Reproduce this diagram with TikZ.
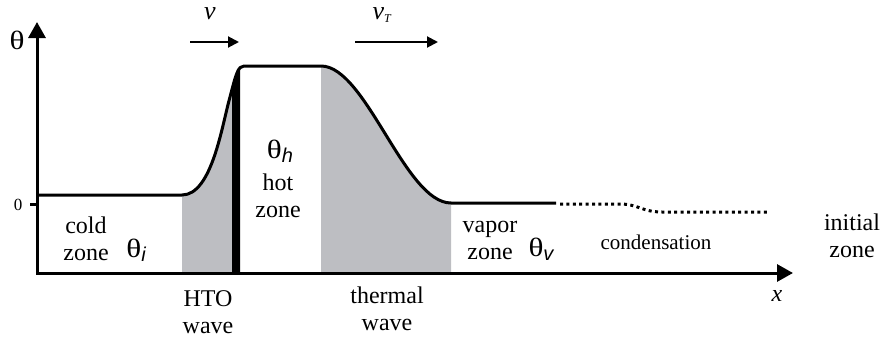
\documentclass[tikz,border=0pt]{standalone}
\usepackage{fontspec}
\setmainfont{Liberation Serif}
\newfontfamily\sansf{Liberation Sans}
\usetikzlibrary{arrows.meta}
\definecolor{zonegray}{RGB}{189,190,194}
\newcommand{\zsub}[1]{\raisebox{-4pt}{\sansf\itshape\fontsize{20}{20}\selectfont #1}}
\newcommand{\zth}{\scalebox{1.3}[1.1]{θ}}
\begin{document}
\begin{tikzpicture}[x=1pt,y=-1pt,
  lbl/.style={font=\fontsize{24}{27}\selectfont, align=center, inner sep=0pt},
  small/.style={font=\fontsize{21}{24}\selectfont, align=center, inner sep=0pt},
  axis/.style={line width=3pt, line join=miter, {Triangle[length=16pt,width=17pt]}-{Triangle[length=16pt,width=17pt]}},
  curve/.style={line width=3pt, line join=round},
  dotcurve/.style={line width=3pt, dash pattern=on 3pt off 3.4pt},
  velarrow/.style={line width=2pt, -{Triangle[length=11pt,width=11pt]}}]
\useasboundingbox (0,0) rectangle (881,338);
% coordinates
\coordinate (O) at (37,273);
\coordinate (Ytip) at (37,22);
\coordinate (Xtip) at (793,273);
\coordinate (t0a) at (30,204);
\coordinate (t0b) at (37,204);
% shaded regions
\begin{scope}
  \clip (182,0) rectangle (232,273);
  \fill[zonegray] (182,273) -- (182,195) .. controls (212,195) and (222,125) .. (230,97) .. controls (236,74) and (238,66) .. (244,66) -- (244,273) -- cycle;
\end{scope}
\begin{scope}
  \clip (232,0) rectangle (240,273);
  \fill[black] (182,273) -- (182,195) .. controls (212,195) and (222,125) .. (230,97) .. controls (236,74) and (238,66) .. (244,66) -- (244,273) -- cycle;
\end{scope}
\fill[zonegray] (321,273) -- (321,66) .. controls (366,66) and (405,203) .. (451,203) -- (451,273) -- cycle;
% temperature profile
\draw[curve] (37,195) -- (182,195) .. controls (212,195) and (222,125) .. (230,97) .. controls (236,74) and (238,66) .. (244,66) -- (321,66) .. controls (366,66) and (405,203) .. (451,203) -- (556,203);
\draw[dotcurve] (560,204) -- (620,204) .. controls (638,204) and (642,212) .. (662,212) -- (767,212);
% axes
\draw[axis] (Ytip) -- (O) -- (Xtip);
\draw[line width=3pt] (t0a) -- (t0b);
% velocity arrows
\coordinate (va) at (190,42);
\coordinate (vb) at (239,42);
\coordinate (vta) at (355,42);
\coordinate (vtb) at (438,42);
\draw[velarrow] (va) -- (vb);
\draw[velarrow] (vta) -- (vtb);
% labels
\node[lbl] (theta) at (17,40) {\zth};
\node[small, font=\fontsize{17}{18}\selectfont] (zero) at (18,205) {0};
\node[lbl] (xlab) at (777,296) {\textit{x}};
\node[lbl, font=\fontsize{26}{27}\selectfont] (vlab) at (210,14) {\textit{v}};
\node[lbl, font=\fontsize{26}{27}\selectfont] (vtlab) at (382,15) {\textit{v}\raisebox{-3pt}{\fontsize{12}{12}\selectfont\textit{T}}};
\node[lbl] (thetah) at (280,151) {\zth\zsub{h}};
\node[lbl] (hot) at (278,196) {hot\\zone};
\node[lbl] (cold) at (86,239) {cold\\zone};
\node[lbl] (thetai) at (136,250) {\zth\zsub{i}};
\node[lbl] (hto) at (208,312) {HTO\\wave};
\node[lbl] (thermal) at (387,309) {thermal\\wave};
\node[lbl] (vapor) at (490,240) {vapor\\zone};
\node[lbl] (thetav) at (541,249) {\zth\zsub{v}};
\node[small] (cond) at (656,242) {condensation};
\node[lbl] (initial) at (852,236) {initial\\zone};
\end{tikzpicture}
\end{document}
